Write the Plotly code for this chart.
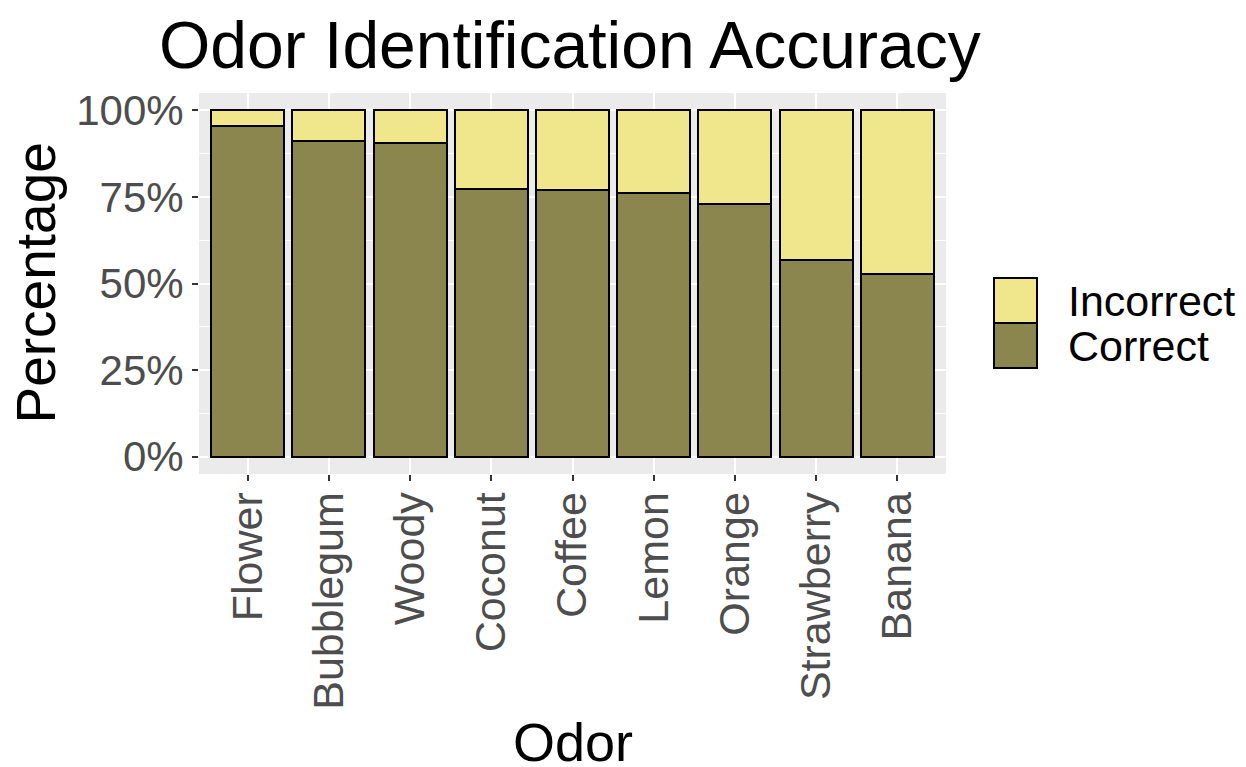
import plotly.graph_objects as go

# ---- data ----
odors = ["Flower", "Bubblegum", "Woody", "Coconut", "Coffee", "Lemon", "Orange", "Strawberry", "Banana"]
correct = [0.955, 0.911, 0.905, 0.772, 0.771, 0.761, 0.730, 0.567, 0.528]
incorrect = [0.045, 0.089, 0.095, 0.228, 0.229, 0.239, 0.270, 0.433, 0.472]
y_ticks = [0, 0.25, 0.5, 0.75, 1.0]
y_tick_labels = ["0%", "25%", "50%", "75%", "100%"]
legend_labels = ["Incorrect", "Correct"]

COL_CORRECT = "#8B864E"
COL_INCORRECT = "#F0E68C"
FONT = "Liberation Sans, Arial, Helvetica, sans-serif"

OFF = 8  # page body margin
W, H = 1246 - OFF, 767 - OFF
# panel in page coords: x 199..946, y 93..474
L, T = 199 - OFF, 93 - OFF
R, B = W - (946 - OFF), H - (474 - OFF)
PW, PH = W - L - R, H - T - B


def px_x(x):
    return (x - OFF - L) / PW


def px_y(y):
    return (H - B - (y - OFF)) / PH


fig = go.Figure()
fig.add_trace(go.Bar(x=odors, y=correct, name="Correct",
                     marker=dict(color=COL_CORRECT, line=dict(color="black", width=2)),
                     showlegend=False))
fig.add_trace(go.Bar(x=odors, y=incorrect, name="Incorrect",
                     marker=dict(color=COL_INCORRECT, line=dict(color="black", width=2)),
                     showlegend=False))

fig.update_layout(
    width=W, height=H,
    margin=dict(l=L, r=R, t=T, b=B, autoexpand=False),
    barmode="stack", bargap=0.1,
    plot_bgcolor="#EBEBEB", paper_bgcolor="white",
    font=dict(family=FONT, color="black"),
    xaxis=dict(range=[-0.6, 8.6], showgrid=True, gridcolor="white", gridwidth=2.2,
               ticks="outside", ticklen=6, tickwidth=2, tickcolor="#333333",
               tickangle=-90, tickfont=dict(size=43, color="#4D4D4D", family=FONT),
               ticklabelstandoff=-6,
               showline=False, zeroline=False),
    yaxis=dict(range=[-0.05, 1.05], tickvals=y_ticks, ticktext=y_tick_labels,
               showgrid=True, gridcolor="white", gridwidth=2.2,
               minor=dict(dtick=0.125, tick0=0, showgrid=True, gridcolor="white", gridwidth=1.1, ticks=""),
               ticks="outside", ticklen=6, tickwidth=2, tickcolor="#333333",
               tickfont=dict(size=42, color="#4D4D4D", family=FONT),
               showline=False, zeroline=False),
)

# title
fig.add_annotation(text="Odor Identification Accuracy", xref="paper", yref="paper",
                   x=px_x(570), y=px_y(45), xanchor="center", yanchor="middle", showarrow=False,
                   font=dict(size=66, color="black", family=FONT))
# axis titles
fig.add_annotation(text="Odor", xref="paper", yref="paper", x=0.5, y=px_y(742),
                   xanchor="center", yanchor="middle", showarrow=False,
                   font=dict(size=54, color="black", family=FONT))
fig.add_annotation(text="Percentage", xref="paper", yref="paper", x=px_x(35), y=0.5,
                   xanchor="center", yanchor="middle", textangle=-90, showarrow=False,
                   font=dict(size=55, color="black", family=FONT))

# legend (manual)
key_cols = [COL_INCORRECT, COL_CORRECT]
key_tops = [278, 323]
for lab, col, top in zip(legend_labels, key_cols, key_tops):
    fig.add_shape(type="rect", xref="paper", yref="paper",
                  x0=px_x(994), x1=px_x(1037), y0=px_y(top + 45), y1=px_y(top),
                  fillcolor=col, line=dict(color="black", width=2))
    fig.add_annotation(text=lab, xref="paper", yref="paper", x=px_x(1066), y=px_y(top + 22.5),
                       xanchor="left", yanchor="middle", showarrow=False,
                       font=dict(size=43, color="black", family=FONT))

fig.write_html("out.html")
